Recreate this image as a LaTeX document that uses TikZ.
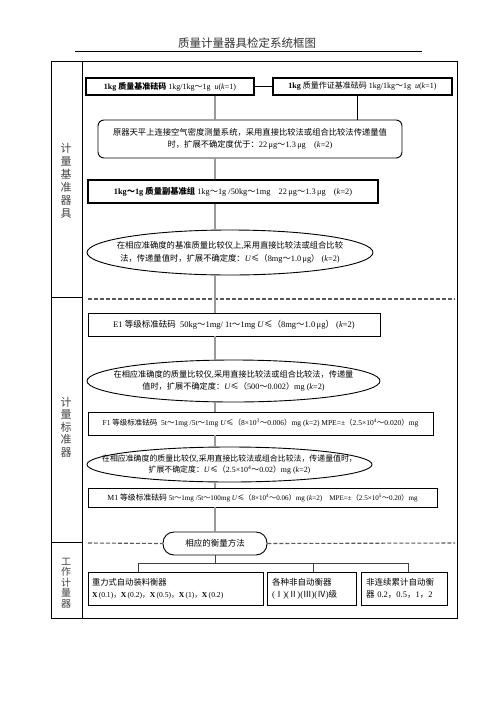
\documentclass[tikz,border=0pt]{standalone}
\usepackage{fontspec}
\setmainfont{Liberation Serif}
\newfontfamily\cjk{Noto Sans CJK SC}
\usetikzlibrary{positioning,shapes.geometric}
\newcommand{\zh}[1]{{\cjk #1}}
\newcommand{\fs}[2]{\fontsize{#1}{#2}\selectfont}
\tikzset{
  plainbox/.style={draw=black, line width=0.9pt, fill=white, inner sep=2pt},
  heavybox/.style={draw=black, line width=1.8pt, fill=white, inner sep=2pt},
  roundbox/.style={plainbox, rounded corners=6pt},
  ovalbox/.style={ellipse, draw=black, line width=0.9pt, fill=white, inner sep=0pt},
  pillbox/.style={plainbox, rounded corners=11pt},
  sidelabel/.style={align=center, text=black!75},
  spineline/.style={draw=gray!80, line width=1.4pt},
  branchline/.style={draw=gray!50!black, line width=0.9pt},
  dashsep/.style={draw=gray!70!black, line width=1.1pt, dash pattern=on 4pt off 2pt},
}
\begin{document}
\begin{tikzpicture}[x=1pt,y=-1pt]
    \useasboundingbox (0,0) rectangle (496,702);

    % title
    \node[font=\cjk\fs{11.5}{13}, text=black!80] (title) at (247,43) {质量计量器具检定系统框图};
    \draw[line width=0.8pt] (75,51) -- (422,51);

    % table frame
    \draw[line width=0.9pt] (51,61) rectangle (457,618);
    \draw[line width=0.9pt] (82,61) -- (82,618);
    \draw[line width=0.9pt] (51,297) -- (82,297);
    \draw[line width=0.9pt] (51,542) -- (82,542);

    \node[sidelabel, font=\cjk\fs{11}{13}] (lab1) at (66,181) {计\\量\\基\\准\\器\\具};
    \node[sidelabel, font=\cjk\fs{11}{12.5}] (lab2) at (66,427) {计\\量\\标\\准\\器};
    \node[sidelabel, font=\cjk\fs{10}{10.5}] (lab3) at (66,583) {工\\作\\计\\量\\器};

    % separators
    \draw[dashsep] (88,299) -- (455,299);

    % primary standards
    \node[heavybox, minimum width=168, minimum height=17, font=\fs{8}{9}] (A) at (170,86.5)
        {\textbf{1kg} \zh{\bfseries 质量基准砝码} 1kg/1kg\zh{～}1g\ \ \textit{u}(\textit{k}=1)};
    \node[heavybox, minimum width=179, minimum height=17, font=\fs{8}{9}] (B) at (362.5,86.5)
        {\textbf{1kg} \zh{质量作证基准砝码} 1kg/1kg\zh{～}1g\ \ \textit{u}(\textit{k}=1)};
    \node[roundbox, minimum width=304, minimum height=38, align=center, font=\fs{8.3}{12}] (C) at (250,139)
        {\zh{原器天平上连接空气密度测量系统，采用直接比较法或组合比较法传递量值}\\
         \zh{时，扩展不确定度优于：}22\,μg\zh{～}1.3\,μg\quad(\textit{k}=2)};
    \node[heavybox, minimum width=290, minimum height=23, font=\fs{8.3}{9}] (D) at (233,191.5)
        {\textbf{1kg\zh{～}1g} \zh{\bfseries 质量副基准组} 1kg\zh{～}1g /50kg\zh{～}1mg\quad 22\,μg\zh{～}1.3\,μg\quad(\textit{k}=2)};
    \node[ovalbox, minimum width=286, minimum height=45] (E) at (230,252.5) {};
    \node[align=center, font=\fs{8.3}{12.5}] (Etext) at (E.center)
        {\zh{在相应准确度的基准质量比较仪上},\zh{采用直接比较法或组合比较}\\
         \zh{法，传递量值时，扩展不确定度：}\textit{U}\zh{≤（}8mg\zh{～}1.0\,μg\zh{）}\ (\textit{k}=2)};

    % standards
    \node[plainbox, minimum width=292, minimum height=23, font=\fs{8.5}{9}] (F) at (234,324.5)
        {E1 \zh{等级标准砝码}\ \ 50kg\zh{～}1mg/ 1t\zh{～}1mg \textit{U}\zh{≤（}8mg\zh{～}1.0\,μg\zh{）}\ (\textit{k}=2)};
    \node[ovalbox, minimum width=293, minimum height=42] (G) at (233.5,381) {};
    \node[align=center, font=\fs{8.2}{12.5}] (Gtext) at (G.center)
        {\zh{在相应准确度的质量比较仪},\zh{采用直接比较法或组合比较法，传递量}\\
         \zh{值时，扩展不确定度：}\textit{U}\zh{≤（}500\zh{～}0.002\zh{）}mg (\textit{k}=2)};
    \node[plainbox, minimum width=345, minimum height=23, font=\fs{7.5}{8}] (H) at (260.5,423.5)
        {F1 \zh{等级标准砝码}\ \ 5t\zh{～}1mg /5t\zh{～}1mg \textit{U}\zh{≤（}8×10\textsuperscript{3}\zh{～}0.006\zh{）}mg (\textit{k}=2) MPE=±\zh{（}2.5×10\textsuperscript{4}\zh{～}0.020\zh{）}mg};
    \node[ovalbox, minimum width=285, minimum height=35] (I) at (229.5,464.5) {};
    \node[align=center, font=\fs{7.9}{11.5}] (Itext) at (I.center)
        {\zh{在相应准确度的质量比较仪},\zh{采用直接比较法或组合比较法，传递量值时，}\\
         \zh{扩展不确定度：}\textit{U}\zh{≤（}2.5×10\textsuperscript{4}\zh{～}0.02\zh{）}mg (\textit{k}=2)};
    \node[plainbox, minimum width=349, minimum height=19, font=\fs{7.1}{8}] (J) at (262.5,497.5)
        {{\fs{7.8}{9}M1 \zh{等级标准砝码}} 5t\zh{～}1mg /5t\zh{～}100mg \textit{U}\zh{≤（}8×10\textsuperscript{4}\zh{～}0.06\zh{）}mg (\textit{k}=2)\quad MPE=±\zh{（}2.5×10\textsuperscript{5}\zh{～}0.20\zh{）}mg};

    % working instruments
    \node[pillbox, minimum width=104, minimum height=23, font=\cjk\fs{8.5}{10}] (K) at (215,543.5) {相应的衡量方法};
    \draw[dashsep] (88,543) -- (K.west);
    \draw[dashsep] (K.east) -- (455,543);
    \node[plainbox, text width=167, inner xsep=4, minimum height=33, align=left, font=\fs{8.3}{12}] (L) at (175.5,588.5)
        {\zh{重力式自动装料衡器}\\
         {\fs{7.6}{12}\textbf{X}\,(0.1)\zh{，}\textbf{X}\,(0.2)\zh{，}\textbf{X}\,(0.5)\zh{，}\textbf{X}\,(1)\zh{，}\textbf{X}\,(0.2)}};
    \node[plainbox, text width=79, inner xsep=5, minimum height=33, align=left, font=\fs{8.5}{12}] (M) at (311.5,588.5)
        {\zh{各种非自动衡器}\\(\zh{Ⅰ})(\zh{Ⅱ})(\zh{Ⅲ})(\zh{Ⅳ})\zh{级}};
    \node[plainbox, text width=76, inner xsep=5, minimum height=33, align=left, font=\fs{8.5}{12}] (N) at (404,588.5)
        {\zh{非连续累计自动衡}\\\zh{器} 0.2\zh{，}0.5\zh{，}1\zh{，}2};

    % connectors
    \coordinate (spine) at (215,0);
    \coordinate (rdrop) at (357,0);
    \draw[line width=0.9pt] (A.east) -- (B.west);
    \draw[line width=0.8pt] (B.south -| rdrop) -- (C.north -| rdrop);
    \draw[spineline] (A.south -| spine) -- (C.north -| spine);
    \draw[spineline] (C.south -| spine) -- (D.north -| spine);
    \draw[spineline] (D.south -| spine) -- (E.north -| spine);
    \draw[spineline] (E.south -| spine) -- (F.north -| spine);
    \draw[spineline] (F.south -| spine) -- (G.north -| spine);
    \draw[spineline] (G.south -| spine) -- (H.north -| spine);
    \draw[spineline] (H.south -| spine) -- (I.north -| spine);
    \draw[spineline] (I.south -| spine) -- (J.north -| spine);
    \draw[spineline] (J.south -| spine) -- (K.north);

    \coordinate (fork) at (215,563);
    \coordinate (forkL) at (138,563);
    \coordinate (forkM) at (313,563);
    \coordinate (forkN) at (408,563);
    \draw[branchline] (K.south) -- (fork);
    \draw[branchline] (forkL) -- (forkN);
    \draw[branchline] (forkL) -- (L.north -| forkL);
    \draw[branchline] (forkM) -- (M.north -| forkM);
    \draw[branchline] (forkN) -- (N.north -| forkN);
\end{tikzpicture}
\end{document}
